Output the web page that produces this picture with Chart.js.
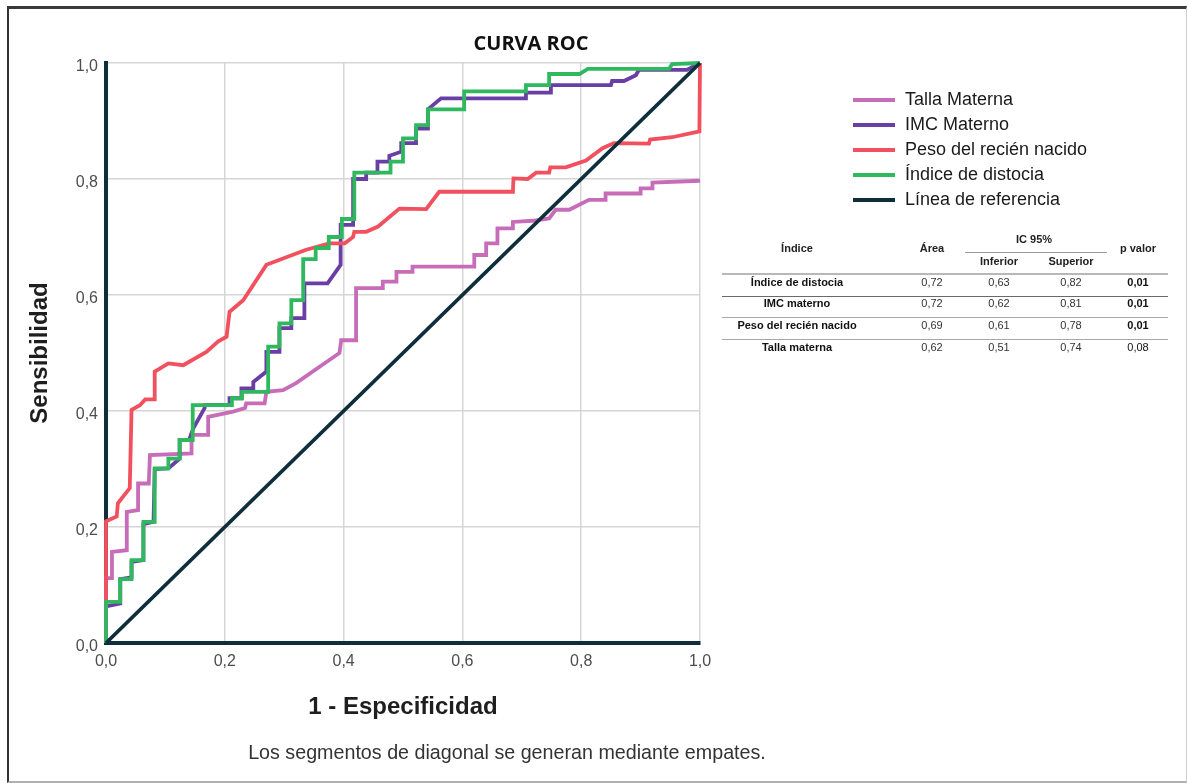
<!DOCTYPE html>
<html>
<head>
<meta charset="utf-8">
<script src="https://cdn.jsdelivr.net/npm/chart.js@4.4.0/dist/chart.umd.min.js"></script>
<style>
html,body{margin:0;padding:0;background:#fff;}
#wrap{position:relative;width:1187px;height:783px;overflow:hidden;background:#fff;font-family:"Liberation Sans",Arial,sans-serif;}
#c{position:absolute;left:0;top:0;}
#frame{position:absolute;left:7px;top:6px;width:1177px;height:772px;border-top:3px solid #3a3a3a;border-left:2px solid #333;border-right:1px solid #cfcfcf;border-bottom:2px solid #b0b0b0;pointer-events:none;}
#title{position:absolute;left:431px;top:31px;width:200px;text-align:center;font-family:"Open Sans",sans-serif;font-weight:bold;font-size:20px;line-height:24px;color:#111;}
#legend{position:absolute;left:853px;top:87px;}
.lrow{display:flex;align-items:center;height:25px;}
.lsw{width:42px;height:4px;margin-right:10px;}
.ltx{font-size:18px;line-height:25px;color:#1a1a1a;white-space:nowrap;}
#foot{position:absolute;left:207px;top:740px;width:600px;text-align:center;font-size:19.7px;line-height:24px;color:#333;white-space:nowrap;}
.cell{position:absolute;transform:translate(-50%,-50%);font-size:11px;line-height:13px;white-space:nowrap;color:#222;}
.hline{position:absolute;height:0;}
</style>
</head>
<body>
<div id="wrap">
  <canvas id="c" width="1187" height="783"></canvas>
  <div id="title">CURVA ROC</div>
  <div id="legend"></div>
  <div id="table"></div>
  <div id="foot">Los segmentos de diagonal se generan mediante empates.</div>
  <div id="frame"></div>
</div>
<script>
// ---------- DATA ----------
const seriesNames = ['Talla Materna', 'IMC Materno', 'Peso del recién nacido', 'Índice de distocia', 'Línea de referencia'];

const tallaMaterna = [
  [0,0],[0,0.112],[0.01,0.112],[0.01,0.157],[0.035,0.16],[0.035,0.226],[0.054,0.229],[0.054,0.275],
  [0.072,0.275],[0.074,0.324],[0.144,0.327],[0.144,0.359],[0.172,0.359],[0.172,0.39],[0.214,0.399],
  [0.234,0.405],[0.236,0.413],[0.267,0.413],[0.27,0.433],[0.298,0.436],[0.32,0.448],[0.393,0.50],
  [0.396,0.522],[0.421,0.522],[0.421,0.612],[0.466,0.612],[0.466,0.623],[0.489,0.623],[0.489,0.64],
  [0.516,0.64],[0.516,0.649],[0.62,0.649],[0.62,0.669],[0.64,0.669],[0.64,0.689],[0.659,0.689],
  [0.659,0.715],[0.685,0.715],[0.685,0.726],[0.718,0.728],[0.746,0.732],[0.757,0.747],[0.78,0.747],
  [0.813,0.764],[0.841,0.764],[0.841,0.775],[0.90,0.775],[0.90,0.784],[0.92,0.784],[0.92,0.794],[1,0.797]
];

const imcMaterno = [
  [0,0],[0,0.063],[0.024,0.068],[0.024,0.11],[0.043,0.113],[0.043,0.14],[0.063,0.143],[0.063,0.205],
  [0.08,0.209],[0.082,0.30],[0.105,0.301],[0.124,0.318],[0.124,0.35],[0.14,0.35],[0.147,0.37],
  [0.166,0.405],[0.166,0.41],[0.208,0.41],[0.208,0.422],[0.228,0.422],[0.228,0.439],[0.248,0.439],
  [0.248,0.45],[0.27,0.468],[0.27,0.502],[0.292,0.502],[0.292,0.543],[0.312,0.543],[0.312,0.56],
  [0.334,0.56],[0.334,0.62],[0.373,0.62],[0.395,0.652],[0.395,0.721],[0.416,0.721],[0.416,0.80],
  [0.438,0.80],[0.438,0.811],[0.457,0.811],[0.457,0.83],[0.477,0.83],[0.477,0.84],[0.497,0.847],
  [0.497,0.862],[0.522,0.862],[0.522,0.887],[0.542,0.887],[0.542,0.92],[0.564,0.939],[0.707,0.939],
  [0.707,0.949],[0.749,0.949],[0.749,0.962],[0.85,0.962],[0.852,0.969],[0.872,0.969],[0.892,0.979],
  [0.897,0.988],[0.978,0.988],[1,1]
];

const pesoRecienNacido = [
  [0,0],[0,0.21],[0.018,0.218],[0.02,0.241],[0.04,0.267],[0.043,0.402],[0.057,0.41],[0.066,0.42],
  [0.082,0.42],[0.082,0.468],[0.105,0.482],[0.13,0.479],[0.169,0.502],[0.189,0.52],[0.203,0.528],
  [0.208,0.571],[0.231,0.591],[0.27,0.652],[0.298,0.663],[0.337,0.678],[0.376,0.689],[0.402,0.689],
  [0.416,0.70],[0.418,0.709],[0.438,0.709],[0.458,0.718],[0.494,0.749],[0.539,0.748],[0.561,0.778],
  [0.685,0.778],[0.686,0.801],[0.71,0.80],[0.724,0.811],[0.746,0.811],[0.748,0.82],[0.774,0.82],
  [0.808,0.832],[0.836,0.853],[0.855,0.862],[0.914,0.861],[0.916,0.868],[0.953,0.872],[0.999,0.882],[1,1]
];

const indiceDistocia = [
  [0,0],[0,0.071],[0.024,0.071],[0.024,0.11],[0.043,0.11],[0.043,0.143],[0.063,0.143],[0.063,0.209],
  [0.082,0.209],[0.082,0.301],[0.105,0.301],[0.105,0.318],[0.124,0.318],[0.124,0.35],[0.146,0.35],
  [0.146,0.41],[0.212,0.41],[0.212,0.422],[0.229,0.422],[0.229,0.433],[0.273,0.433],[0.273,0.511],
  [0.292,0.511],[0.292,0.551],[0.312,0.551],[0.312,0.591],[0.332,0.591],[0.332,0.662],[0.353,0.662],
  [0.353,0.681],[0.375,0.681],[0.375,0.70],[0.397,0.70],[0.397,0.731],[0.418,0.731],[0.418,0.811],
  [0.479,0.811],[0.479,0.83],[0.50,0.83],[0.50,0.87],[0.522,0.87],[0.522,0.893],[0.542,0.893],
  [0.542,0.92],[0.603,0.92],[0.603,0.951],[0.707,0.951],[0.707,0.962],[0.746,0.962],[0.746,0.981],
  [0.797,0.981],[0.811,0.99],[0.948,0.99],[0.953,0.998],[1,1]
];

const lineaReferencia = [[0,0],[1,1]];

const xTicks = [0, 0.2, 0.4, 0.6, 0.8, 1.0];
const yTicks = [0, 0.2, 0.4, 0.6, 0.8, 1.0];

// table
const tableHeaders = ['Índice', 'Área', 'IC 95%', 'Inferior', 'Superior', 'p valor'];
const tableIndices = ['Índice de distocia', 'IMC materno', 'Peso del recién nacido', 'Talla materna'];
const tableArea = [0.72, 0.72, 0.69, 0.62];
const tableInf = [0.63, 0.62, 0.61, 0.51];
const tableSup = [0.82, 0.81, 0.78, 0.74];
const tableP = [0.01, 0.01, 0.01, 0.08];

// ---------- STYLE ----------
const colors = ['#c76cb8', '#6a3fa5', '#f1505f', '#2fb85e', '#0f2e3b'];
const drawOrder = [5, 4, 3, 2, 1];
const allSeries = [tallaMaterna, imcMaterno, pesoRecienNacido, indiceDistocia, lineaReferencia];
const fmt1 = v => Number(v).toFixed(1).replace('.', ',');
const fmt2 = v => Number(v).toFixed(2).replace('.', ',');
const FONT = '"Liberation Sans", Arial, sans-serif';

const datasets = allSeries.map((pts, i) => ({
  label: seriesNames[i],
  data: pts.map(p => ({x: p[0], y: p[1]})),
  borderColor: colors[i],
  backgroundColor: colors[i],
  borderWidth: 3.8,
  pointRadius: 0,
  pointHoverRadius: 0,
  tension: 0,
  fill: false,
  clip: false,
  order: drawOrder[i]
}));

new Chart(document.getElementById('c'), {
  type: 'line',
  data: { datasets },
  options: {
    responsive: false,
    animation: false,
    devicePixelRatio: 1,
    layout: { padding: { left: 0, top: 63, right: 487, bottom: 0 } },
    plugins: { legend: { display: false }, tooltip: { enabled: false } },
    scales: {
      x: {
        type: 'linear', min: 0, max: 1,
        afterFit: s => { s.height = 140; },
        afterBuildTicks: s => { s.ticks = xTicks.map(v => ({value: v})); },
        ticks: { callback: fmt1, padding: 9, color: '#4d4d4d', font: { family: FONT, size: 16 }, maxRotation: 0, autoSkip: false },
        grid: { color: '#d6d6d6', lineWidth: 1.5, drawTicks: false },
        border: { color: '#0f2d3a', width: 4 },
        title: { display: true, text: '1 - Especificidad', color: '#1e1e1e', font: { family: FONT, size: 24, weight: 'bold' }, padding: { top: 0, bottom: 61 } }
      },
      y: {
        type: 'linear', min: 0, max: 1,
        afterFit: s => { s.width = 106; },
        afterBuildTicks: s => { s.ticks = yTicks.map(v => ({value: v})); },
        ticks: { callback: fmt1, padding: 8, labelOffset: 4, color: '#4d4d4d', font: { family: FONT, size: 16 }, autoSkip: false },
        grid: { color: '#d6d6d6', lineWidth: 1.5, drawTicks: false },
        border: { color: '#0f2d3a', width: 4 },
        title: { display: true, text: 'Sensibilidad', color: '#1e1e1e', font: { family: FONT, size: 24, weight: 'bold' }, padding: { top: 26, bottom: 0 } }
      }
    }
  }
});

// ---------- LEGEND (HTML, from dataset arrays) ----------
const legend = document.getElementById('legend');
seriesNames.forEach((name, i) => {
  const row = document.createElement('div');
  row.className = 'lrow';
  row.innerHTML = '<div class="lsw" style="background:' + colors[i] + '"></div><div class="ltx">' + name + '</div>';
  legend.appendChild(row);
});

// ---------- TABLE ----------
const tbl = document.getElementById('table');
function cell(text, cx, cy, bold, color) {
  const d = document.createElement('div');
  d.className = 'cell';
  d.textContent = text;
  d.style.left = cx + 'px';
  d.style.top = cy + 'px';
  if (bold) d.style.fontWeight = 'bold';
  if (color) d.style.color = color;
  tbl.appendChild(d);
}
function hline(x1, x2, y, w, c) {
  const d = document.createElement('div');
  d.className = 'hline';
  d.style.left = x1 + 'px';
  d.style.width = (x2 - x1) + 'px';
  d.style.top = y + 'px';
  d.style.borderTop = w + 'px solid ' + c;
  tbl.appendChild(d);
}
const colX = [797, 932, 999, 1071, 1138];
cell(tableHeaders[0], colX[0], 248, true);
cell(tableHeaders[1], colX[1], 248, true);
cell(tableHeaders[2], 1034, 239, true);
cell(tableHeaders[3], colX[2], 261, true);
cell(tableHeaders[4], colX[3], 261, true);
cell(tableHeaders[5], colX[4], 248, true);
hline(965, 1107, 252, 1, '#9a9a9a');
hline(722, 1168, 273, 2, '#b8b8b8');
const rowY = [282, 303, 325, 347];
const lineY = [296, 317, 339];
const lineC = ['#6a6a6a', '#a8a8a8', '#a8a8a8'];
tableIndices.forEach((name, i) => {
  cell(name, colX[0], rowY[i], true, '#111');
  cell(fmt2(tableArea[i]), colX[1], rowY[i], false, '#333');
  cell(fmt2(tableInf[i]), colX[2], rowY[i], false, '#333');
  cell(fmt2(tableSup[i]), colX[3], rowY[i], false, '#333');
  cell(fmt2(tableP[i]), colX[4], rowY[i], tableP[i] < 0.05, '#111');
  if (i < lineY.length) hline(722, 1168, lineY[i], 1, lineC[i]);
});
</script>
</body>
</html>
